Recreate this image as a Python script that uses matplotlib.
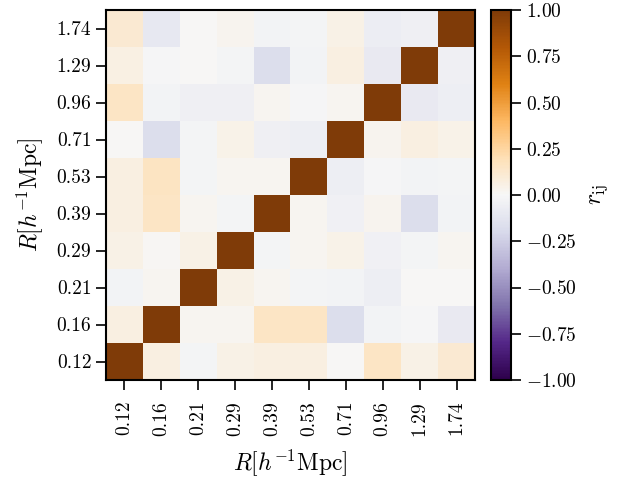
import numpy as np
import matplotlib
matplotlib.use('Agg')
import matplotlib.pyplot as plt

plt.rcParams['font.family'] = 'serif'
plt.rcParams['font.serif'] = ['cmr10']
plt.rcParams['mathtext.fontset'] = 'cm'
plt.rcParams['axes.formatter.use_mathtext'] = True

# radial bins
r_bins = ['0.12', '0.16', '0.21', '0.29', '0.39', '0.53', '0.71', '0.96', '1.29', '1.74']

# correlation matrix, rows from R=0.12 (bottom) to R=1.74 (top)
corr = np.array([
    [1.00, 0.07, -0.02, 0.05, 0.07, 0.07, 0.00, 0.15, 0.05, 0.11],
    [0.07, 1.00, 0.02, 0.02, 0.15, 0.15, -0.17, -0.03, -0.01, -0.09],
    [-0.03, 0.02, 1.00, 0.05, 0.02, -0.02, -0.03, -0.06, 0.00, 0.00],
    [0.05, 0.01, 0.05, 1.00, -0.02, 0.02, 0.04, -0.04, -0.02, 0.02],
    [0.07, 0.15, 0.02, -0.02, 1.00, 0.02, -0.04, 0.03, -0.17, -0.03],
    [0.07, 0.16, -0.02, 0.02, 0.02, 1.00, -0.06, -0.01, -0.03, -0.02],
    [0.00, -0.17, -0.02, 0.04, -0.05, -0.06, 1.00, 0.03, 0.07, 0.04],
    [0.15, -0.03, -0.05, -0.05, 0.02, -0.01, 0.02, 1.00, -0.09, -0.06],
    [0.06, -0.01, 0.00, -0.02, -0.17, -0.03, 0.07, -0.09, 1.00, -0.05],
    [0.11, -0.10, 0.00, 0.03, -0.03, -0.02, 0.05, -0.07, -0.05, 1.00],
])

fig = plt.figure(figsize=(6.19, 4.92), dpi=100)
ax = fig.add_axes([106 / 619, 112 / 492, 369 / 619, 370 / 492])
cax = fig.add_axes([491 / 619, 112 / 492, 20 / 619, 370 / 492])

im = ax.imshow(corr, cmap='PuOr_r', vmin=-1, vmax=1, origin='lower', aspect='auto')

ax.set_xticks(np.arange(len(r_bins)))
ax.set_yticks(np.arange(len(r_bins)))
ax.set_xticklabels(r_bins, rotation=90)
ax.set_yticklabels(r_bins)
ax.tick_params(labelsize=14, length=7, width=1.2)
ax.tick_params(axis='x', pad=8)
ax.set_xlabel(r'$R[h^{-1}{\rm Mpc}]$', fontsize=17, labelpad=8)
ax.set_ylabel(r'$R[h^{-1}{\rm Mpc}]$', fontsize=17, labelpad=8)
for s in ax.spines.values():
    s.set_linewidth(1.5)

cb = fig.colorbar(im, cax=cax, ticks=[-1, -0.75, -0.5, -0.25, 0, 0.25, 0.5, 0.75, 1])
cb.ax.yaxis.set_major_formatter(matplotlib.ticker.FuncFormatter(lambda v, p: r'$%.2f$' % v))
cb.ax.tick_params(labelsize=14, length=7, width=1.2)
cb.outline.set_linewidth(1.5)
cb.set_label(r'$r_{\rm ij}$', fontsize=17, labelpad=8)

fig.savefig('out.png', dpi=100)
